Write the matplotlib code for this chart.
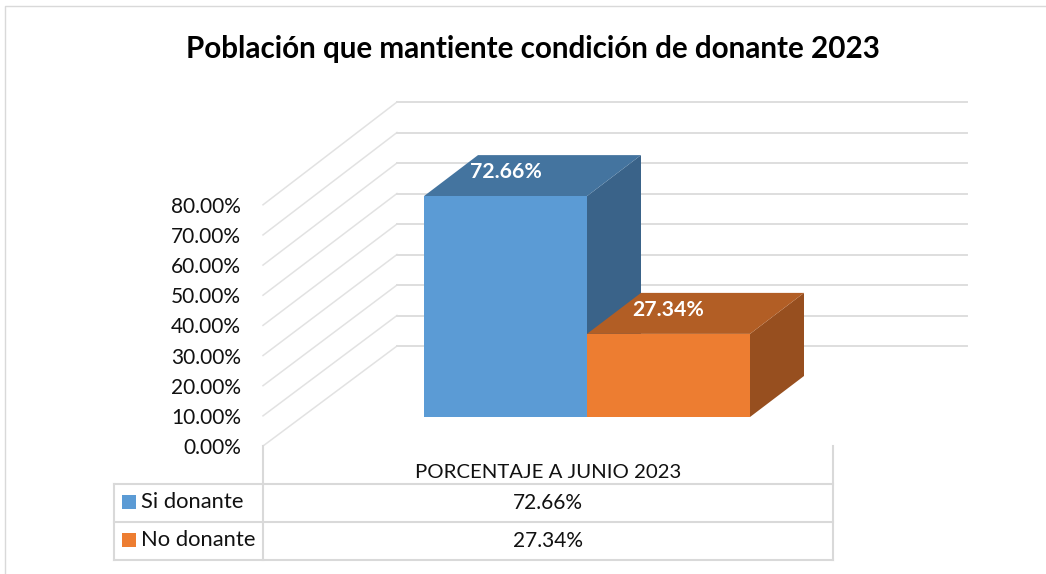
import matplotlib
matplotlib.use("Agg")
import matplotlib.pyplot as plt
from matplotlib.patches import Polygon, Rectangle

plt.rcParams['font.family'] = ['Lato', 'DejaVu Sans']

title = 'Población que mantiente condición de donante 2023'
categoria = 'PORCENTAJE A JUNIO 2023'
series = ['Si donante', 'No donante']
valores = [72.66, 27.34]
ticks = [0, 10, 20, 30, 40, 50, 60, 70, 80]
colores = ['#5B9BD5', '#ED7D31']
lados = ['#3A6389', '#974F1F']
techos = ['#44749F', '#B25E25']

W, H = 1046, 574
fig = plt.figure(figsize=(W/100, H/100), dpi=100)
ax = fig.add_axes([0, 0, 1, 1])
ax.set_xlim(0, W)
ax.set_ylim(H, 0)
ax.axis('off')

# frame of the chart
ax.plot([5, 5, 1046], [574, 6, 6], color='#D9D9D9', lw=1)

y0, k = 446.0, 3.015     # front wall: y pixel of 0%, pixels per percent
yb, kback = 346.0, 3.05  # back wall
xf, xb, xr = 263, 397, 967

for t in ticks:
    ax.plot([xf, xb], [y0-k*t, yb-kback*t], color='#E2E2E2', lw=1.1, zorder=1)
    ax.plot([xb, xr], [yb-kback*t, yb-kback*t], color='#DEDEDE', lw=1.4, zorder=1)
    ax.text(241, y0-k*t+2, '%.2f%%' % t, ha='right', va='center', fontsize=15, color='#111111')

# bars
bar_x = [424, 587]
bar_w = 163
bar_base = 417
ddx, ddy = 54, 41
kb = 3.04
for x, v, c, s, t in zip(bar_x, valores, colores, lados, techos):
    top = bar_base - kb*v
    ax.add_patch(Polygon([(x+bar_w, bar_base), (x+bar_w+ddx, bar_base-ddy), (x+bar_w+ddx, top-ddy), (x+bar_w, top)], color=s, lw=0, zorder=2))
    ax.add_patch(Polygon([(x, top), (x+ddx, top-ddy), (x+bar_w+ddx, top-ddy), (x+bar_w, top)], color=t, lw=0, zorder=2))
    ax.add_patch(Rectangle((x, top), bar_w, kb*v, color=c, lw=0, zorder=3))
for x, v in zip(bar_x, valores):
    top = bar_base - kb*v
    ax.text(x+bar_w/2, top-24, '%.2f%%' % v, ha='center', va='center',
            fontsize=15.3, color='white', fontweight='bold', zorder=5)

ax.text(532.5, 49, title, ha='center', va='center', fontsize=21.3, fontweight='bold', color='black')

# data table
tb = '#D9D9D9'
ax.plot([263, 263], [446, 560], color=tb, lw=1.5)
ax.plot([833, 833], [446, 560], color=tb, lw=1.5)
ax.plot([114, 833], [484, 484], color=tb, lw=1.5)
ax.plot([114, 833], [522, 522], color=tb, lw=1.5)
ax.plot([114, 833], [560, 560], color=tb, lw=1.5)
ax.plot([114, 114], [484, 560], color=tb, lw=1.5)
ax.text(548, 472, categoria, ha='center', va='center', fontsize=14.7, color='#111111')
for i, (n, v, c) in enumerate(zip(series, valores, colores)):
    yc = 502 + 38*i
    ax.add_patch(Rectangle((122, yc-7), 14, 14, color=c, lw=0))
    ax.text(141, yc, n, ha='left', va='center', fontsize=15.8, color='#111111')
    ax.text(548, yc+1, '%.2f%%' % v, ha='center', va='center', fontsize=15, color='#111111')

fig.savefig('out.png', dpi=100)
